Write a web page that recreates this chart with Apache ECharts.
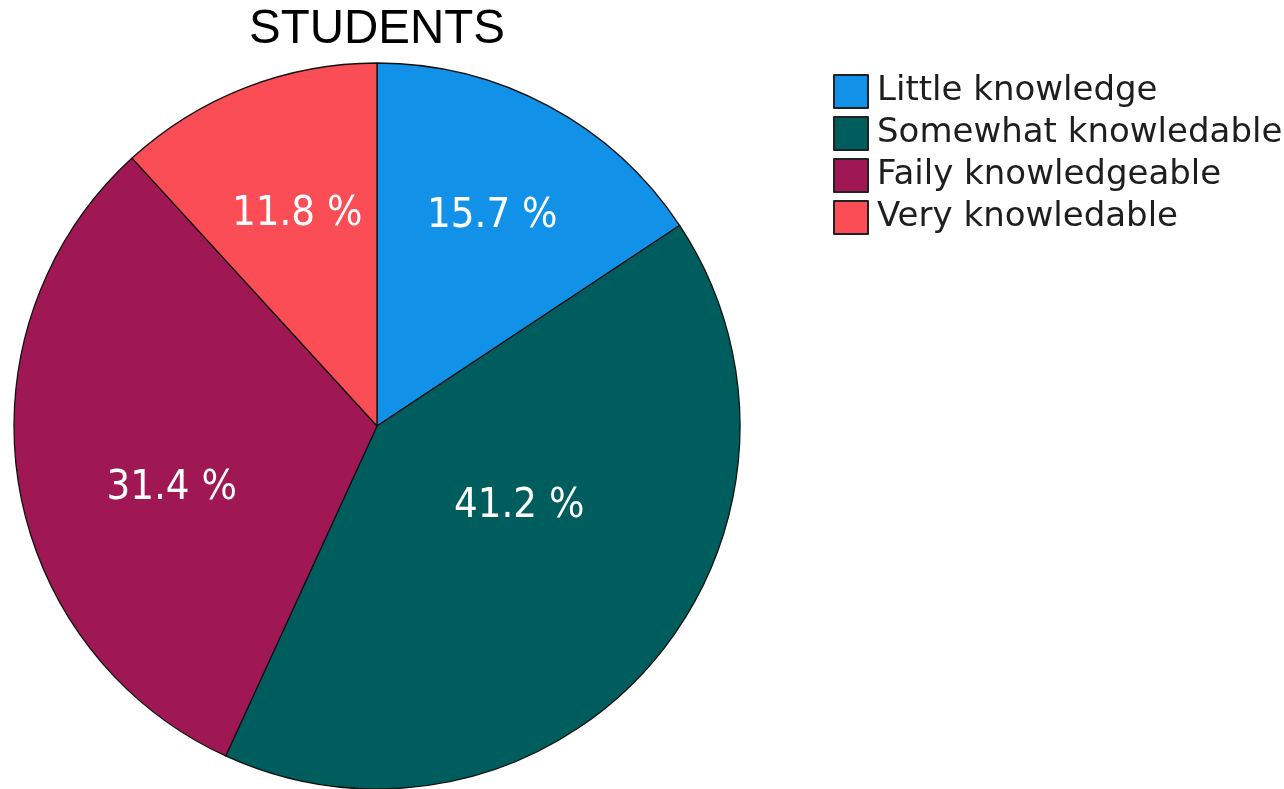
<!DOCTYPE html>
<html>
<head>
<meta charset="utf-8">
<script src="https://cdn.jsdelivr.net/npm/echarts@6/dist/echarts.min.js"></script>
<style>
  html, body { margin: 0; padding: 0; background: #fff; }
  #chart { width: 1284px; height: 789px; }
</style>
</head>
<body>
<div id="chart"></div>
<script>
// Knowledge levels reported by students (percent of respondents)
const categories = ['Little knowledge', 'Somewhat knowledable', 'Faily knowledgeable', 'Very knowledable'];
const percentages = [15.7, 41.2, 31.4, 11.8];
const sliceColors = ['#1192e8', '#005d5d', '#9f1853', '#fa4d56'];
const chartTitle = 'STUDENTS';

// Small nudges for each inside label, relative to the slice's default label spot
const labelNudges = [[28, -47], [2, -40], [-23, 34], [-13, -40]];

const chart = echarts.init(document.getElementById('chart'), null, { renderer: 'canvas' });

chart.setOption({
  animation: false,
  backgroundColor: '#ffffff',
  title: {
    text: chartTitle,
    left: 372,
    textAlign: 'center',
    top: 1,
    textStyle: {
      fontFamily: 'Liberation Sans, Arial, sans-serif',
      fontWeight: 'normal',
      fontSize: 47.5,
      color: '#000'
    }
  },
  legend: {
    orient: 'vertical',
    left: 833,
    top: 74,
    padding: 0,
    itemWidth: 34,
    itemHeight: 33,
    itemGap: 7,
    icon: 'rect',
    data: categories,
    selectedMode: false,
    itemStyle: { borderColor: '#222', borderWidth: 2 },
    textStyle: {
      fontFamily: 'DejaVu Sans, Verdana, sans-serif',
      fontSize: 34,
      lineHeight: 27,
      color: '#1e1e1e',
      padding: [6, 0, 0, 4]
    }
  },
  series: [{
    type: 'pie',
    center: [377, 426],
    radius: [0, 363],
    startAngle: 90,
    clockwise: true,
    silent: true,
    itemStyle: { borderColor: '#111', borderWidth: 1.3 },
    label: {
      show: true,
      position: 'inside',
      color: '#ffffff',
      fontFamily: 'DejaVu Sans Condensed, DejaVu Sans, sans-serif',
      fontSize: 41.5,
      formatter: p => p.value.toFixed(1) + ' %'
    },
    labelLine: { show: false },
    labelLayout: p => ({ dx: labelNudges[p.dataIndex][0], dy: labelNudges[p.dataIndex][1] }),
    data: categories.map((name, i) => ({
      name: name,
      value: percentages[i],
      itemStyle: { color: sliceColors[i] }
    }))
  }]
});
</script>
</body>
</html>
